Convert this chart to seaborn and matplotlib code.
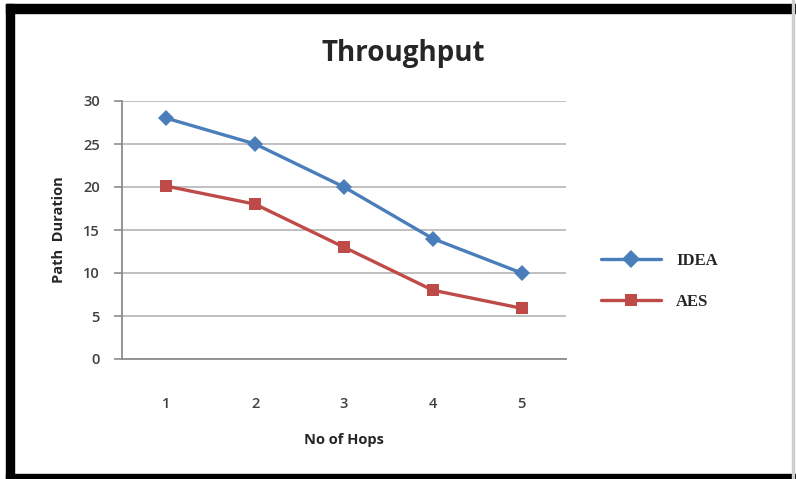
import matplotlib
matplotlib.use("Agg")
import matplotlib.pyplot as plt
import seaborn as sns
import pandas as pd
from matplotlib.patches import Rectangle

# donnees du graphique
hops = [1, 2, 3, 4, 5]
idea = [28, 25, 20, 14, 10]
aes = [20.1, 18, 13, 8, 5.9]
series_names = ["IDEA", "AES"]
couleurs = ["#4A7EBB", "#BE4B48"]
marqueurs = ["D", "s"]

df = pd.DataFrame({"hops": hops * 2,
                   "valeur": idea + aes,
                   "serie": [series_names[0]] * 5 + [series_names[1]] * 5})

sns.set_style("white")
fig = plt.figure(figsize=(7.96, 4.79), dpi=100)
ax = fig.add_axes([122 / 796, 1 - 359 / 479, (566 - 122) / 796, (359 - 101) / 479])

sns.lineplot(data=df, x="hops", y="valeur", hue="serie", style="serie",
             palette=couleurs, markers=marqueurs, dashes=False,
             linewidth=2.4, markersize=8, markeredgewidth=0, ax=ax)

ax.set_xlim(0.5, 5.5)
ax.set_ylim(0, 30)
ax.set_xticks(hops)
ax.set_yticks(range(0, 31, 5))
ax.yaxis.grid(True, color="#B5B5B5", linewidth=1.2)
ax.xaxis.grid(False)
for cote in ["top", "right"]:
    ax.spines[cote].set_visible(False)
ax.spines["left"].set_color("#8C8C8C")
ax.spines["bottom"].set_color("#8C8C8C")
ax.spines["left"].set_linewidth(1.3)
ax.spines["bottom"].set_linewidth(1.3)
ax.tick_params(axis="y", left=True, length=6, width=1.2, color="#8C8C8C",
               labelsize=10.5, labelcolor="#404040", pad=10)
ax.tick_params(axis="x", bottom=False, labelsize=10.5, labelcolor="#404040", pad=24)
for lab in ax.get_xticklabels() + ax.get_yticklabels():
    lab.set_family("Open Sans")
    lab.set_fontweight("semibold")

ax.set_xlabel("No of Hops", fontsize=10.5, fontweight="bold", family="Open Sans",
              labelpad=16)
ax.set_ylabel("Path  Duration", fontsize=10.5, fontweight="bold", family="Open Sans",
              labelpad=12)
fig.text(403 / 796, 1 - 53 / 479, "Throughput", ha="center", va="center",
         fontsize=20, fontweight="bold", family="Open Sans")

leg = ax.legend(loc="center left", bbox_to_anchor=(1.06, 0.30), frameon=False,
                prop={"family": "Liberation Serif", "weight": "bold", "size": 12},
                handlelength=3.6, labelspacing=1.5, markerscale=1.1,
                borderpad=0, handletextpad=0.9)

# cadre noir de la capture
fig.patches.append(Rectangle((6 / 796, 0), 8 / 796, 1 - 4 / 479,
                             transform=fig.transFigure, color="black"))
fig.patches.append(Rectangle((6 / 796, 1 - 13 / 479), 1 - 6 / 796, 9 / 479,
                             transform=fig.transFigure, color="black"))
fig.patches.append(Rectangle((6 / 796, 0), 1 - 6 / 796, 5 / 479,
                             transform=fig.transFigure, color="black"))
fig.patches.append(Rectangle((792 / 796, 0), 1.5 / 796, 1,
                             transform=fig.transFigure, color="#CFCFCF"))

fig.savefig("out.png", dpi=100)
